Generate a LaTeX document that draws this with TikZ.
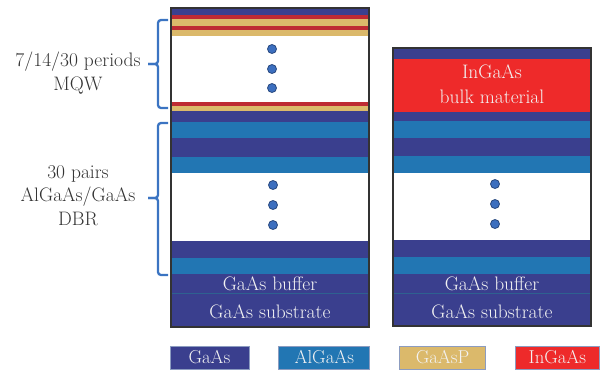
\documentclass[tikz,border=0pt]{standalone}
\usetikzlibrary{positioning}
\definecolor{gaas}{HTML}{3A3F8E}
\definecolor{algaas}{HTML}{2276B3}
\definecolor{gaasp}{HTML}{DBB96B}
\definecolor{ingaas}{HTML}{EE2A2A}
\definecolor{qwred}{HTML}{BE2A33}
\definecolor{bracec}{HTML}{3B74C2}
\definecolor{dotfill}{HTML}{3C6FBF}
\definecolor{dotline}{HTML}{2A4A80}
\definecolor{labelc}{HTML}{333333}
\definecolor{inkc}{HTML}{F2F2F2}
\definecolor{seamc}{HTML}{2E6190}
\tikzset{
    stackframe/.style={draw=black!80, line width=1.2pt},
    dotmark/.style={circle, draw=dotline, fill=dotfill, line width=0.8pt, minimum size=9pt, inner sep=0pt, node contents={}},
    brak/.style={draw=bracec, line width=2.3pt, rounded corners=3pt},
    lbl/.style={text=labelc, align=center, font=\fontsize{19.5}{23.5}\selectfont, inner sep=0pt, anchor=base},
    inlbl/.style={lbl, text=inkc},
    swatch/.style={draw={rgb,255:red,140;green,156;blue,192}, line width=0.8pt, minimum height=23pt, inner sep=0pt, text=inkc, font=\fontsize{18.7}{22}\selectfont}
}
\begin{document}
\begin{tikzpicture}[x=1pt,y=-1pt]
  \useasboundingbox (0,0) rectangle (602,373);

  % Draw the layers
  \foreach \ya/\yb/\col in {8/15/gaas, 15/19/qwred, 19/26/gaasp, 26/30/qwred, 30/36/gaasp,
      36/102/white, 102/106/qwred, 106/111/gaasp, 111/122/gaas, 122/138/algaas,
      138/157/gaas, 157/173/algaas, 173/241/white, 241/258/gaas, 258/274/algaas,
      274/327/gaas}
    \fill[\col] (171,\ya) rectangle (369,\yb);
  \foreach \ya/\yb/\col in {48/59/gaas, 59/112/ingaas, 112/121/gaas, 121/138/algaas,
      138/156/gaas, 156/173/algaas, 173/240/white, 240/257/gaas, 257/274/algaas,
      274/326/gaas}
    \fill[\col] (393,\ya) rectangle (591,\yb);
  \draw[seamc, line width=0.8pt] (171,293) -- (369,293);
  \draw[seamc, line width=0.8pt] (393,293) -- (591,293);
  \draw[stackframe] (171,8) rectangle (369,327);
  \draw[stackframe] (393,48) rectangle (591,326);

  % Draw the dots
  \foreach \y [count=\i] in {49,69,88} \node (qwdot\i) at (272,\y) [dotmark];
  \foreach \y [count=\i] in {185,205,225} \node (dbrdot\i) at (273,\y) [dotmark];
  \foreach \y [count=\i] in {184,204,224} \node (bulkdot\i) at (495,\y) [dotmark];

  % Draw the texts
  \node[inlbl] (buffl) at (270,290) {GaAs buffer};
  \node[inlbl] (subl) at (270,318) {GaAs substrate};
  \node[inlbl] (buffr) at (492,290) {GaAs buffer};
  \node[inlbl] (subr) at (492,318) {GaAs substrate};
  \node[inlbl, font=\fontsize{19.5}{25}\selectfont] (bulk) at (492,103) {InGaAs\\bulk material};

  % Draw the braces
  \coordinate (qwtop) at (168,20);
  \coordinate (qwbot) at (168,108);
  \coordinate (qwtip) at (148,64);
  \draw[brak] (qwtop) -- ++(-10,0) |- (qwtip);
  \draw[brak] (qwbot) -- ++(-10,0) |- (qwtip);
  \coordinate (dbrtop) at (168,123);
  \coordinate (dbrbot) at (168,275);
  \coordinate (dbrtip) at (148,198);
  \draw[brak] (dbrtop) -- ++(-10,0) |- (dbrtip);
  \draw[brak] (dbrbot) -- ++(-10,0) |- (dbrtip);
  \node[lbl, font=\fontsize{19.5}{24}\selectfont] (qwlbl) at (78,90) {7/14/30 periods\\MQW};
  \node[lbl] (dbrlbl) at (78,225) {30 pairs\\AlGaAs/GaAs\\DBR};

  % Draw the legend
  \node[swatch, fill=gaas, minimum width=79pt] (kgaas) at (209.5,357.5) {GaAs};
  \node[swatch, fill=algaas, minimum width=91pt, right=29pt of kgaas] (kalgaas) {AlGaAs};
  \node[swatch, fill=gaasp, minimum width=86pt, right=29pt of kalgaas] (kgaasp) {GaAsP};
  \node[swatch, fill=ingaas, minimum width=84pt, right=29pt of kgaasp] (kingaas) {InGaAs};
\end{tikzpicture}
\end{document}
